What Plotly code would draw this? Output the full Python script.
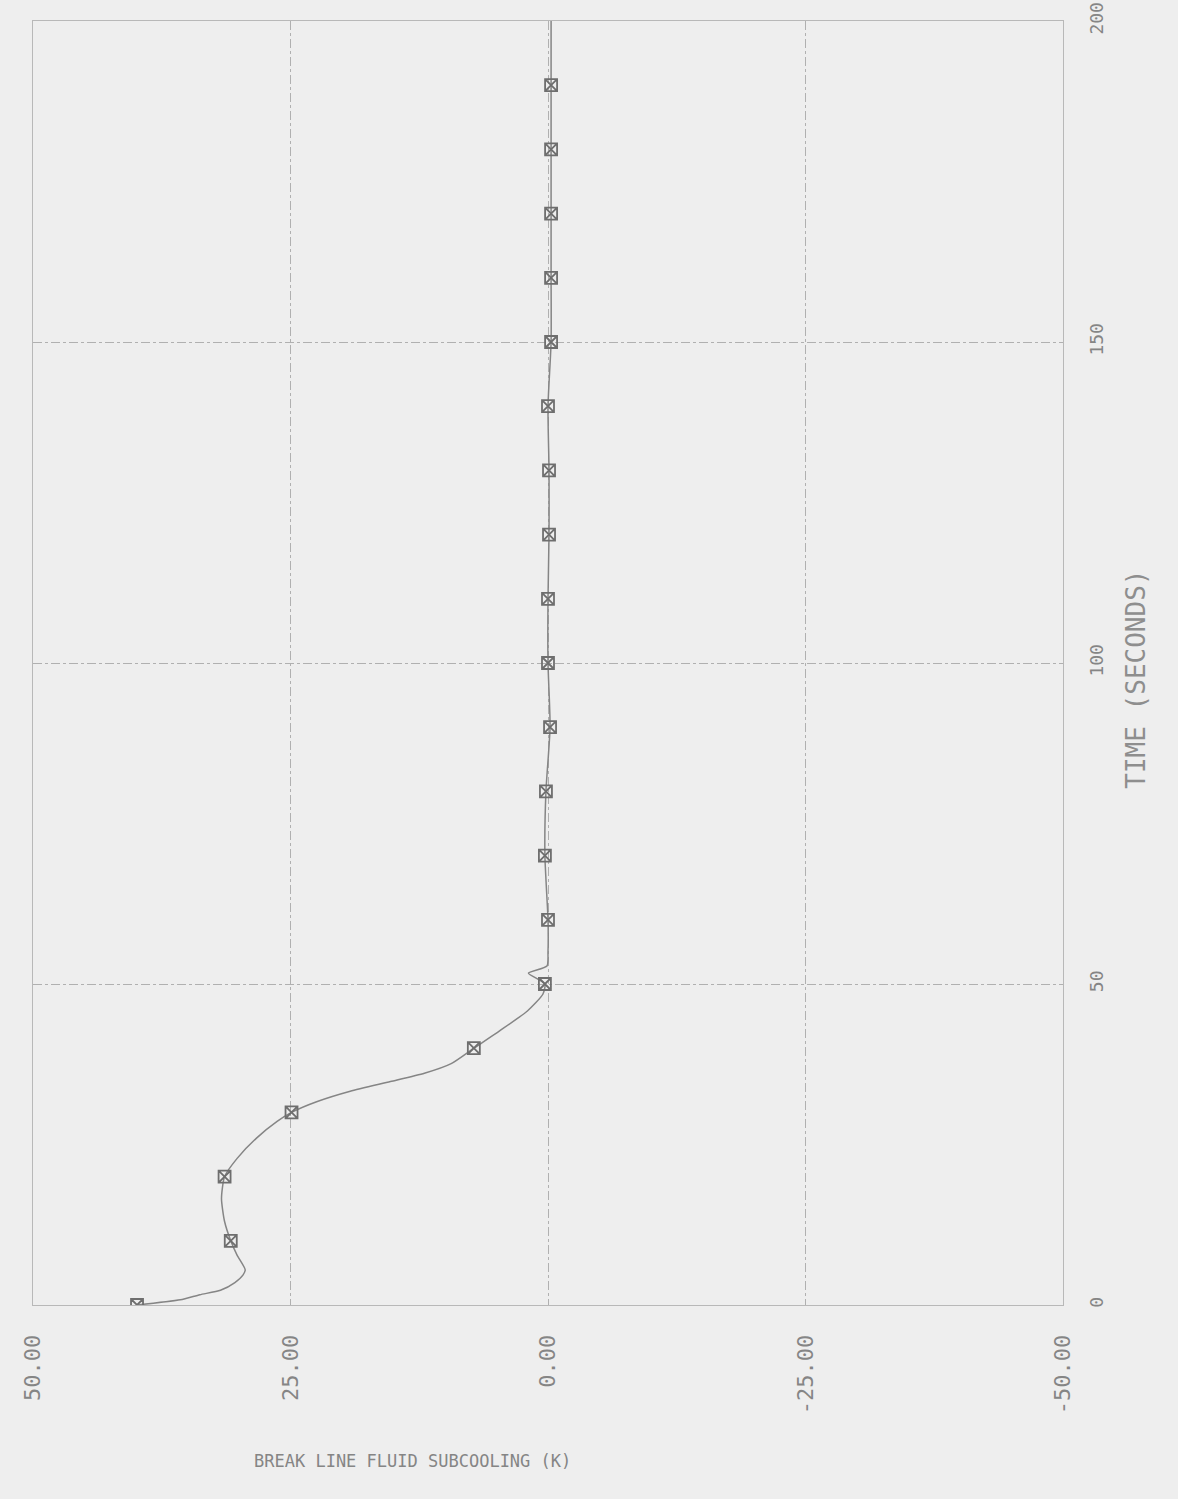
import plotly.graph_objects as go

# Curve: time (s) vs break line fluid subcooling (K)
TIME = [0, 0.8, 1.6, 2.3, 3.5, 4.7, 5.5, 7.8, 10, 13, 16.6, 20, 22.8, 26, 28.6, 30,
        31.7, 33.3, 34.8, 36.1, 37.6, 40, 42.7, 45.8, 48.4, 50, 51.7, 52.8, 55,
        60, 70, 80, 90, 100, 110, 120, 130, 140, 150, 160, 170, 180, 190, 200]
SUBCOOL = [39.9, 35.7, 33.8, 31.8, 30.4, 29.6, 29.4, 30.2, 30.8, 31.4, 31.7, 31.4, 30.2,
           28.3, 26.3, 24.9, 22.4, 19.2, 15.3, 12.0, 9.4, 7.2, 4.7, 2.0, 0.5, 0.3, 1.9,
           0.1, 0.0, 0.0, 0.3, 0.2, -0.2, 0.0, 0.0, -0.1, -0.1, 0.0, -0.3, -0.3, -0.3,
           -0.3, -0.3, -0.3]

# Symbols every 10 s
MARK_T = [0, 10, 20, 30, 40, 50, 60, 70, 80, 90, 100, 110, 120, 130, 140, 150, 160, 170, 180, 190]
MARK_V = [39.9, 30.8, 31.4, 24.9, 7.2, 0.3, 0.0, 0.3, 0.2, -0.2, 0.0, 0.0, -0.1, -0.1,
          0.0, -0.3, -0.3, -0.3, -0.3, -0.3]

X_TICKS = [50, 25, 0, -25, -50]
X_TICKTEXT = ["50.00", "25.00", "0.00", "-25.00", "-50.00"]
Y_TICKS = [0, 50, 100, 150, 200]
Y_TICKTEXT = ["0", "50", "100", "150", "200"]

BG = "#eeeeee"
INK = "#858585"
FONT = "DejaVu Sans Mono"

fig = go.Figure()
fig.add_trace(go.Scatter(x=SUBCOOL, y=TIME, mode="lines",
                         line=dict(color="#858585", width=1.5, shape="spline", smoothing=0.6),
                         showlegend=False))
fig.add_trace(go.Scatter(x=MARK_V, y=MARK_T, mode="markers",
                         marker=dict(symbol="square-x-open", size=12,
                                     color="#6e6e6e", line=dict(width=1.8, color="#6e6e6e")),
                         showlegend=False))

fig.update_layout(
    width=1178, height=1499,
    paper_bgcolor=BG, plot_bgcolor=BG,
    margin=dict(l=33, r=115, t=21, b=194, autoexpand=False),
    font=dict(family=FONT, color=INK, size=15),
    xaxis=dict(range=[50, -50], tickvals=X_TICKS, ticktext=X_TICKTEXT,
               tickangle=-90, ticks="outside", ticklen=20, tickcolor=BG,
               showgrid=True, gridcolor="#b0b0b0", griddash="dashdot", gridwidth=1,
               zeroline=False, showline=True, linecolor="#b8b8b8", mirror=True,
               ticklabeloverflow="allow", automargin=False,
               tickfont=dict(size=22, color=INK)),
    yaxis=dict(range=[0, 200], tickvals=Y_TICKS, ticktext=Y_TICKTEXT, side="right",
               tickangle=-90, ticks="outside", ticklen=17, tickcolor=BG,
               showgrid=True, gridcolor="#b0b0b0", griddash="dashdot", gridwidth=1,
               zeroline=False, showline=True, linecolor="#b8b8b8", mirror=True,
               ticklabeloverflow="allow", automargin=False,
               tickfont=dict(size=18, color=INK)),
)

fig.add_annotation(text="TIME (SECONDS)", xref="paper", yref="paper",
                   x=1.0, xshift=90, y=0.487, textangle=-90, showarrow=False,
                   font=dict(size=26, color="#8e8e8e", family=FONT))
fig.add_annotation(text="BREAK LINE FLUID SUBCOOLING (K)", xref="paper", yref="paper",
                   x=0.213, y=0, yshift=-168, showarrow=False,
                   font=dict(size=17, color=INK, family=FONT))

fig.write_html("out.html", config={"displayModeBar": False},
               post_script="document.body.style.margin='0';")
